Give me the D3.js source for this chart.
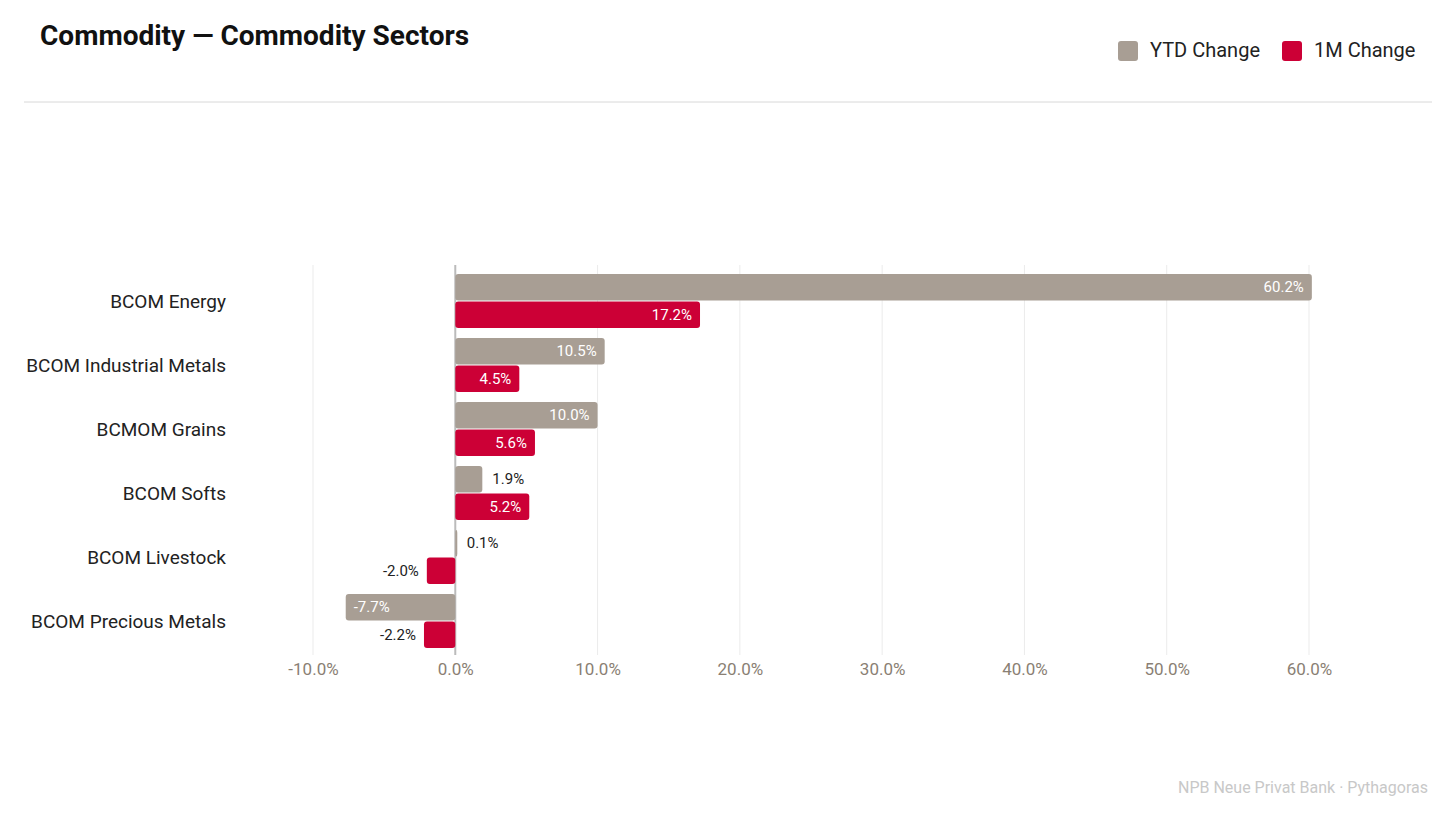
<!DOCTYPE html>
<html><head><meta charset="utf-8">
<script src="https://cdn.jsdelivr.net/npm/d3@7"></script>
<style>body{margin:0;background:#fff;font-family:Roboto,"Noto Sans",sans-serif}</style>
</head><body><div id="chart"></div>
<script>
const sectors = ["BCOM Energy", "BCOM Industrial Metals", "BCMOM Grains", "BCOM Softs", "BCOM Livestock", "BCOM Precious Metals"];
const ytdChange = [60.2, 10.5, 10.0, 1.9, 0.1, -7.7];
const oneMChange = [17.2, 4.5, 5.6, 5.2, -2.0, -2.2];
const xTicks = [-10, 0, 10, 20, 30, 40, 50, 60];
const seriesNames = ["YTD Change", "1M Change"];
const colours = ["#a89e94", "#cc0036"];

const W = 1456, H = 819;
const svg = d3.select("#chart").append("svg").attr("width", W).attr("height", H);

svg.append("text").attr("x", 40).attr("y", 45).attr("font-size", 28).attr("font-weight", 700)
  .attr("fill", "#111").text("Commodity — Commodity Sectors");
svg.append("line").attr("x1", 24).attr("x2", 1432).attr("y1", 102).attr("y2", 102)
  .attr("stroke", "#d8d8d8");

// legend
const legX = [1118, 1282];
seriesNames.forEach((n, i) => {
  svg.append("rect").attr("x", legX[i]).attr("y", 41).attr("width", 20).attr("height", 20)
    .attr("rx", 3).attr("fill", colours[i]);
  svg.append("text").attr("x", legX[i] + 32).attr("y", 57).attr("font-size", 20)
    .attr("fill", "#222").text(n);
});

const x = d3.scaleLinear().domain([-10, 60]).range([313, 1309]);
const y = d3.scaleBand().domain(sectors).range([269, 653]);
const sub = d3.scaleBand().domain([0, 1]).range([4, 60]).padding(0.04);

svg.selectAll("line.grid").data(xTicks).enter().append("line").attr("class", "grid")
  .attr("x1", d => x(d)).attr("x2", d => x(d)).attr("y1", 265).attr("y2", 655)
  .attr("stroke", d => d === 0 ? "#bbb" : "#ebebeb").attr("stroke-width", d => d === 0 ? 2 : 1);

const axis = svg.append("g").attr("transform", "translate(0,660)")
  .call(d3.axisBottom(x).tickValues(xTicks).tickSize(0).tickFormat(d => d.toFixed(1) + "%"));
axis.select(".domain").remove();
axis.selectAll("text").attr("font-size", 17).attr("fill", "#8a7f74").attr("font-family", "Roboto");

svg.selectAll("text.cat").data(sectors).enter().append("text").attr("class", "cat")
  .attr("x", 226).attr("y", d => y(d) + y.bandwidth() / 2 + 7).attr("text-anchor", "end")
  .attr("font-size", 19).attr("fill", "#222").text(d => d);

[ytdChange, oneMChange].forEach((vals, s) => {
  const g = svg.append("g");
  vals.forEach((v, i) => {
    const yy = y(sectors[i]) + sub(s);
    const h = sub.bandwidth();
    const x0 = x(Math.min(0, v)), w = Math.max(Math.abs(x(v) - x(0)), 2);
    g.append("rect").attr("x", x0).attr("y", yy).attr("width", w).attr("height", h)
      .attr("rx", 3).attr("fill", colours[s]);
    const label = v.toFixed(1) + "%";
    const inside = w > 45;
    let tx, anchor;
    if (v >= 0) { tx = inside ? x(v) - 8 : x(v) + 10; anchor = inside ? "end" : "start"; }
    else { tx = inside ? x(v) + 8 : x(v) - 8; anchor = inside ? "start" : "end"; }
    g.append("text").attr("x", tx).attr("y", yy + h / 2 + 5).attr("text-anchor", anchor)
      .attr("font-size", 15).attr("fill", inside ? "#fff" : "#222").text(label);
  });
});

svg.append("text").attr("x", 1428).attr("y", 793).attr("text-anchor", "end")
  .attr("font-size", 16).attr("fill", "#c8c8c8").text("NPB Neue Privat Bank · Pythagoras");
</script></body></html>
